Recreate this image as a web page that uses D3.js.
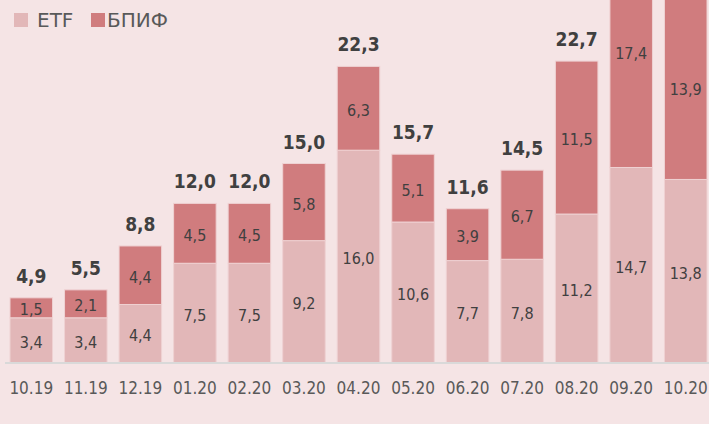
<!DOCTYPE html>
<html>
<head>
<meta charset="utf-8">
<script src="https://cdn.jsdelivr.net/npm/d3@7"></script>
<style>
  body { margin: 0; background: #f5e4e5; }
  svg { display: block; }
</style>
</head>
<body>
<div id="chart"></div>
<script>
const width = 709;
const height = 424;

const months = ["10.19", "11.19", "12.19", "01.20", "02.20", "03.20", "04.20", "05.20", "06.20", "07.20", "08.20", "09.20", "10.20"];
const etf = [3.4, 3.4, 4.4, 7.5, 7.5, 9.2, 16.0, 10.6, 7.7, 7.8, 11.2, 14.7, 13.8];
const bpif = [1.5, 2.1, 4.4, 4.5, 4.5, 5.8, 6.3, 5.1, 3.9, 6.7, 11.5, 17.4, 13.9];
const totals = [4.9, 5.5, 8.8, 12.0, 12.0, 15.0, 22.3, 15.7, 11.6, 14.5, 22.7, 32.1, 27.7];
const seriesNames = ["ETF", "БПИФ"];
const colors = ["#e2b7b8", "#d07c7e"];

const fmt = (v) => v.toFixed(1).replace(".", ",");
const font = "'DejaVu Sans', Tahoma, sans-serif";
const fontC = "'DejaVu Sans Condensed', 'DejaVu Sans', Tahoma, sans-serif";

const svg = d3.select("#chart").append("svg")
  .attr("width", width)
  .attr("height", height);

svg.append("rect").attr("width", width).attr("height", height).attr("fill", "#f5e4e5");

const baseline = 363;
const x = d3.scaleBand().domain(months).range([4, 713]).paddingInner(0.22).paddingOuter(0.11);
const y = d3.scaleLinear().domain([0, 10]).range([baseline, baseline - 133]);

const rows = months.map((m, i) => ({ m, etf: etf[i], bpif: bpif[i], total: totals[i] }));
const stack = d3.stack().keys(["etf", "bpif"])(rows);

const g = svg.append("g");

stack.forEach((layer, li) => {
  g.selectAll(null).data(layer).enter().append("rect")
    .attr("x", (d) => x(d.data.m))
    .attr("y", (d) => y(d[1]))
    .attr("width", x.bandwidth())
    .attr("height", (d) => y(d[0]) - y(d[1]))
    .attr("fill", colors[li])
    .attr("stroke", "#efd2d3")
    .attr("stroke-width", 1);

  g.selectAll(null).data(layer).enter().append("text")
    .attr("x", (d) => x(d.data.m) + x.bandwidth() / 2)
    .attr("y", (d) => (y(d[0]) + y(d[1])) / 2 + 7.5)
    .attr("text-anchor", "middle")
    .attr("font-family", fontC)
    .attr("font-size", 16)
    .attr("fill", "#404040")
    .text((d) => fmt(d[1] - d[0]));
});

// totals (the tallest ones fall above the frame, as in the original)
g.selectAll(null).data(rows.filter((d) => y(d.total) - 15 > 18)).enter().append("text")
  .attr("x", (d) => x(d.m) + x.bandwidth() / 2)
  .attr("y", (d) => y(d.total) - 15)
  .attr("text-anchor", "middle")
  .attr("font-family", fontC)
  .attr("font-size", 19)
  .attr("font-weight", "bold")
  .attr("fill", "#404040")
  .text((d) => fmt(d.total));

// axis
const xAxis = svg.append("g")
  .attr("transform", `translate(0,${baseline})`)
  .call(d3.axisBottom(x).tickSize(0).tickPadding(19));
xAxis.select(".domain").attr("stroke", "#d9d9d9").attr("stroke-width", 2)
  .attr("d", `M5,0H709`);
xAxis.selectAll("text")
  .attr("font-family", fontC)
  .attr("font-size", 17)
  .attr("fill", "#595959");

// legend
const legend = svg.append("g").attr("transform", "translate(14,13)");
const lx = [0, 77];
const tx = [23, 93];
seriesNames.forEach((name, i) => {
  legend.append("rect").attr("x", lx[i]).attr("y", 0).attr("width", 14).attr("height", 14).attr("fill", colors[i]);
  legend.append("text").attr("x", tx[i]).attr("y", 14)
    .attr("font-family", font).attr("font-size", 20).attr("fill", "#595959")
    .text(name);
});
</script>
</body>
</html>
